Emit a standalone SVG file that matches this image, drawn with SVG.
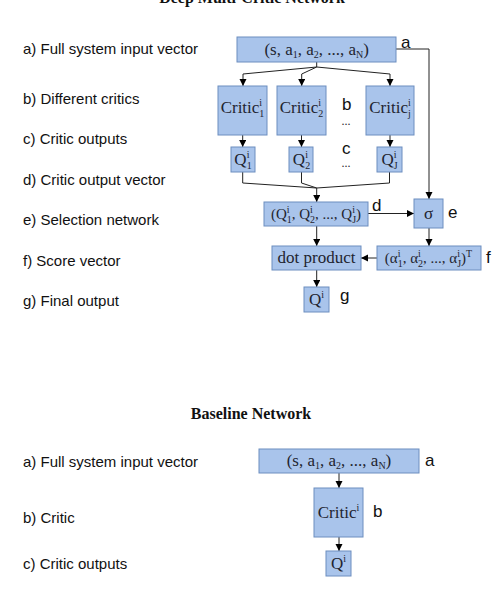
<svg xmlns="http://www.w3.org/2000/svg" width="498" height="591" viewBox="0 0 498 591">
<defs>
<marker id="arr" markerUnits="userSpaceOnUse" markerWidth="8" markerHeight="8" refX="7" refY="3.5" orient="auto"><path d="M0,0 L7,3.5 L0,7 z" fill="#000"/></marker>
<style>
.box{fill:#a9c4eb;stroke:#6c8ebf;stroke-width:1}
.m{font-family:"Liberation Serif","DejaVu Serif",serif;font-size:17px;fill:#1f2430;text-anchor:middle}
.v{font-size:15px}
.s{font-size:10px}
.lbl{font-family:"Liberation Sans",Arial,sans-serif;font-size:15px;fill:#111}
.ltr{font-family:"Liberation Sans",Arial,sans-serif;font-size:17px;fill:#111}
.dots{font-family:"Liberation Serif","DejaVu Serif",serif;font-size:12px;fill:#1f2430;text-anchor:middle}
.ttl{font-family:"Liberation Serif","DejaVu Serif",serif;font-size:16px;font-weight:bold;fill:#111;text-anchor:middle}
.c{fill:none;stroke:#222;stroke-width:1}
.ca{fill:none;stroke:#222;stroke-width:1;marker-end:url(#arr)}
</style>
</defs>
<rect width="498" height="591" fill="#fff"/>
<text class="ttl" x="252" y="3">Deep Multi-Critic Network</text>
<text class="ttl" x="251" y="419">Baseline Network</text>

<g id="legend-top" class="lbl">
<text x="23" y="54">a) Full system input vector</text>
<text x="23" y="104">b) Different critics</text>
<text x="23" y="144">c) Critic outputs</text>
<text x="23" y="185">d) Critic output vector</text>
<text x="23" y="225">e) Selection network</text>
<text x="23" y="266">f) Score vector</text>
<text x="23" y="306">g) Final output</text>
</g>
<g id="legend-bottom" class="lbl">
<text x="23" y="467">a) Full system input vector</text>
<text x="23" y="523">b) Critic</text>
<text x="23" y="569">c) Critic outputs</text>
</g>

<g id="connectors">
<path class="c" d="M316.7,62 V67"/>
<path class="ca" d="M316.7,67 L243,74 V86"/>
<path class="ca" d="M316.7,67 L301.7,74 V86"/>
<path class="ca" d="M316.7,67 L390,74 V86"/>
<path class="ca" d="M396,49 H429 V199"/>
<path class="ca" d="M242.7,135 V147"/>
<path class="ca" d="M301.5,135 V147"/>
<path class="ca" d="M390,135 V147"/>
<path class="c" d="M242.7,172 V183 L316.7,188"/>
<path class="c" d="M301.5,172 V183 L316.7,188"/>
<path class="c" d="M389.5,172 V183 L316.7,188"/>
<path class="ca" d="M316.7,188 V202"/>
<path class="ca" d="M368,213.5 H414"/>
<path class="ca" d="M429,228 V246"/>
<path class="ca" d="M377,258 H361"/>
<path class="ca" d="M316.7,226 V246"/>
<path class="ca" d="M316.7,270 V287"/>
<path class="ca" d="M339,473 V488"/>
<path class="ca" d="M339,537 V551"/>
</g>

<g id="input">
<rect class="box" x="237" y="37" width="159" height="25"/>
<text class="m" x="316.7" y="55">(s, a<tspan class="s" dy="3">1</tspan><tspan dy="-3">, a</tspan><tspan class="s" dy="3">2</tspan><tspan dy="-3">, ..., a</tspan><tspan class="s" dy="3">N</tspan><tspan dy="-3">)</tspan></text>
<text class="ltr" x="401" y="48">a</text>
</g>

<g id="critic1">
<rect class="box" x="218" y="86" width="49" height="49"/>
<text class="m" x="242.5" y="113">Critic<tspan class="s" dy="-7">i</tspan><tspan class="s" dx="-2.8" dy="11">1</tspan></text>
</g>
<g id="critic2">
<rect class="box" x="277" y="86" width="49" height="49"/>
<text class="m" x="301.5" y="113">Critic<tspan class="s" dy="-7">i</tspan><tspan class="s" dx="-2.8" dy="11">2</tspan></text>
</g>
<g id="criticj">
<rect class="box" x="366" y="86" width="48" height="49"/>
<text class="m" x="390" y="113">Critic<tspan class="s" dy="-7">i</tspan><tspan class="s" dx="-2.8" dy="11">j</tspan></text>
</g>
<g id="b-label">
<text class="ltr" x="342" y="110">b</text>
<text class="dots" x="346" y="125">...</text>
</g>

<g id="q1">
<rect class="box" x="231" y="147" width="24" height="25"/>
<text class="m" x="243" y="165">Q<tspan class="s" dy="-7">i</tspan><tspan class="s" dx="-2.8" dy="11">1</tspan></text>
</g>
<g id="q2">
<rect class="box" x="289" y="147" width="24" height="25"/>
<text class="m" x="301.5" y="165">Q<tspan class="s" dy="-7">i</tspan><tspan class="s" dx="-2.8" dy="11">2</tspan></text>
</g>
<g id="qj">
<rect class="box" x="377" y="147" width="25" height="25"/>
<text class="m" x="389.5" y="165">Q<tspan class="s" dy="-7">i</tspan><tspan class="s" dx="-2.8" dy="11">J</tspan></text>
</g>
<g id="c-label">
<text class="ltr" x="342" y="154">c</text>
<text class="dots" x="346" y="167">...</text>
</g>

<g id="qvector">
<rect class="box" x="264" y="202" width="104" height="24"/>
<text class="m v" x="316" y="219">(Q<tspan class="s" dy="-6">i</tspan><tspan class="s" dx="-2.8" dy="10">1</tspan><tspan dy="-4">, Q</tspan><tspan class="s" dy="-6">i</tspan><tspan class="s" dx="-2.8" dy="10">2</tspan><tspan dy="-4">, ..., Q</tspan><tspan class="s" dy="-6">i</tspan><tspan class="s" dx="-2.8" dy="10">J</tspan><tspan dy="-4">)</tspan></text>
<text class="ltr" x="372" y="211">d</text>
</g>

<g id="sigma">
<rect class="box" x="414" y="199" width="29" height="29"/>
<text class="m" x="428.5" y="219">σ</text>
<text class="ltr" x="448" y="218">e</text>
</g>

<g id="score">
<rect class="box" x="377" y="246" width="104" height="24"/>
<text class="m v" x="428.5" y="263">(α<tspan class="s" dy="-6">i</tspan><tspan class="s" dx="-2.8" dy="10">1</tspan><tspan dy="-4">, α</tspan><tspan class="s" dy="-6">i</tspan><tspan class="s" dx="-2.8" dy="10">2</tspan><tspan dy="-4">, ..., α</tspan><tspan class="s" dy="-6">i</tspan><tspan class="s" dx="-2.8" dy="10">J</tspan><tspan dy="-4">)</tspan><tspan class="s" dy="-6">T</tspan></text>
<text class="ltr" x="486" y="263">f</text>
</g>

<g id="dotproduct">
<rect class="box" x="272" y="246" width="89" height="24"/>
<text class="m" x="316.5" y="263">dot product</text>
</g>

<g id="qi">
<rect class="box" x="304" y="287" width="25" height="25"/>
<text class="m" x="316.5" y="305">Q<tspan class="s" dy="-7">i</tspan></text>
<text class="ltr" x="340" y="301">g</text>
</g>

<g id="b-input">
<rect class="box" x="259" y="449" width="160" height="24"/>
<text class="m" x="339" y="466">(s, a<tspan class="s" dy="3">1</tspan><tspan dy="-3">, a</tspan><tspan class="s" dy="3">2</tspan><tspan dy="-3">, ..., a</tspan><tspan class="s" dy="3">N</tspan><tspan dy="-3">)</tspan></text>
<text class="ltr" x="425" y="466">a</text>
</g>
<g id="b-critic">
<rect class="box" x="314" y="488" width="49" height="49"/>
<text class="m" x="338.5" y="518">Critic<tspan class="s" dy="-7">i</tspan></text>
<text class="ltr" x="373" y="517">b</text>
</g>
<g id="b-qi">
<rect class="box" x="326" y="551" width="25" height="25"/>
<text class="m" x="338.5" y="569">Q<tspan class="s" dy="-7">i</tspan></text>
</g>
</svg>
